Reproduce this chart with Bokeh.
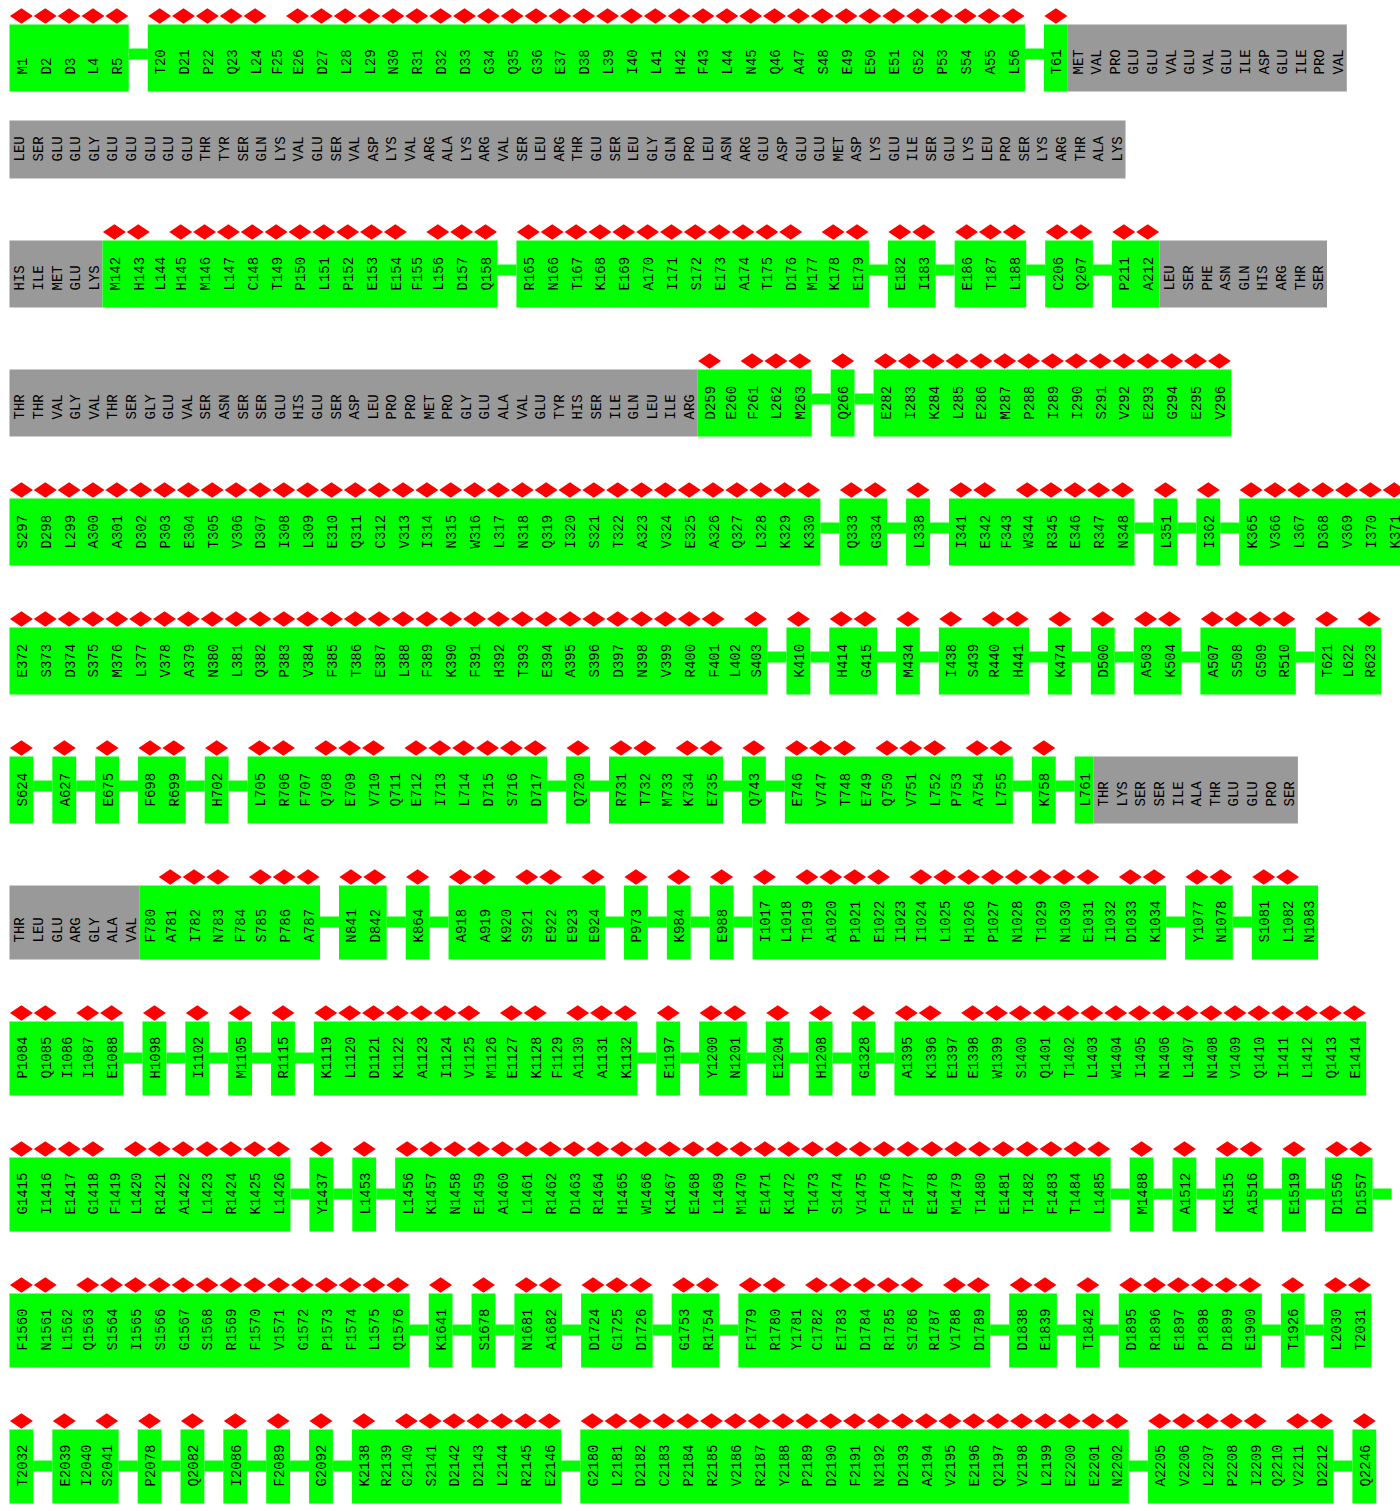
import math
from bokeh.plotting import figure
from bokeh.models import ColumnDataSource, Range1d
from bokeh.embed import file_html
from bokeh.resources import INLINE
from bokeh.core.properties import value

# ---------------- data: residues per display row ----------------
# Tokens with a number = observed residue (green); three-letter codes = unobserved (gray)
ROW_01 = ["M1", "D2", "D3", "L4", "R5",
          "T20", "D21", "P22", "Q23", "L24", "F25", "E26", "D27", "L28", "L29", "N30", "R31", "D32",
          "D33", "G34", "Q35", "G36", "E37", "D38", "L39", "I40", "L41", "H42", "F43", "L44", "N45",
          "Q46", "A47", "S48", "E49", "E50", "E51", "G52", "P53", "S54", "A55", "L56",
          "T61",
          "MET", "VAL", "PRO", "GLU", "GLU", "VAL", "GLU", "VAL", "GLU", "ILE", "ASP", "GLU", "ILE", "PRO", "VAL"]
ROW_02 = ["LEU", "SER", "GLU", "GLU", "GLY", "GLU", "GLU", "GLU", "GLU", "GLU", "THR", "TYR", "SER", "GLN",
          "LYS", "VAL", "GLU", "SER", "VAL", "ASP", "LYS", "VAL", "ARG", "ALA", "LYS", "ARG", "VAL", "SER",
          "LEU", "ARG", "THR", "GLU", "SER", "LEU", "GLY", "GLN", "PRO", "LEU", "ASN", "ARG", "GLU", "ASP",
          "GLU", "GLU", "MET", "ASP", "LYS", "GLU", "ILE", "SER", "GLU", "LYS", "LEU", "PRO", "SER", "LYS",
          "ARG", "THR", "ALA", "LYS"]
ROW_03 = ["HIS", "ILE", "MET", "GLU", "LYS",
          "M142", "H143", "L144", "H145", "M146", "L147", "C148", "T149", "P150", "L151", "P152", "E153",
          "E154", "F155", "L156", "D157", "Q158",
          "R165", "N166", "T167", "K168", "E169", "A170", "I171", "S172", "E173", "A174", "T175", "D176",
          "M177", "K178", "E179",
          "E182", "I183", "E186", "T187", "L188", "C206", "Q207", "P211", "A212",
          "LEU", "SER", "PHE", "ASN", "GLN", "HIS", "ARG", "THR", "SER"]
ROW_04 = ["THR", "THR", "VAL", "GLY", "VAL", "THR", "SER", "GLY", "GLU", "VAL", "SER", "ASN", "SER", "SER",
          "GLU", "HIS", "GLU", "SER", "ASP", "LEU", "PRO", "PRO", "MET", "PRO", "GLY", "GLU", "ALA", "VAL",
          "GLU", "TYR", "HIS", "SER", "ILE", "GLN", "LEU", "ILE", "ARG",
          "D259", "E260", "F261", "L262", "M263", "Q266",
          "E282", "I283", "K284", "L285", "E286", "M287", "P288", "I289", "I290", "S291", "V292", "E293",
          "G294", "E295", "V296"]
ROW_05 = ["S297", "D298", "L299", "A300", "A301", "D302", "P303", "E304", "T305", "V306", "D307", "I308",
          "L309", "E310", "Q311", "C312", "V313", "I314", "N315", "W316", "L317", "N318", "Q319", "I320",
          "S321", "T322", "A323", "V324", "E325", "A326", "Q327", "L328", "K329", "K330",
          "Q333", "G334", "L338", "I341", "E342", "F343", "W344", "R345", "E346", "R347", "N348",
          "L351", "I362", "K365", "V366", "L367", "D368", "V369", "I370", "K371"]
ROW_06 = ["E372", "S373", "D374", "S375", "M376", "L377", "V378", "A379", "N380", "L381", "Q382", "P383",
          "V384", "F385", "T386", "E387", "L388", "F389", "K390", "F391", "H392", "T393", "E394", "A395",
          "S396", "D397", "N398", "V399", "R400", "F401", "L402", "S403",
          "K410", "H414", "G415", "M434", "I438", "S439", "R440", "H441", "K474", "D500", "A503", "K504",
          "A507", "S508", "G509", "R510", "T621", "L622", "R623"]
ROW_07 = ["S624", "A627", "E675", "F698", "R699", "H702",
          "L705", "R706", "F707", "Q708", "E709", "V710", "Q711", "E712", "I713", "L714", "D715", "S716",
          "D717", "Q720", "R731", "T732", "M733", "K734", "E735", "Q743",
          "E746", "V747", "T748", "E749", "Q750", "V751", "L752", "P753", "A754", "L755", "K758", "L761",
          "THR", "LYS", "SER", "SER", "ILE", "ALA", "THR", "GLU", "GLU", "PRO", "SER"]
ROW_08 = ["THR", "LEU", "GLU", "ARG", "GLY", "ALA", "VAL",
          "F780", "A781", "I782", "N783", "F784", "S785", "P786", "A787", "N841", "D842", "K864",
          "A918", "A919", "K920", "S921", "E922", "E923", "E924", "P973", "K984", "E988",
          "I1017", "L1018", "T1019", "A1020", "P1021", "E1022", "I1023", "I1024", "L1025", "H1026",
          "P1027", "N1028", "T1029", "N1030", "E1031", "I1032", "D1033", "K1034",
          "Y1077", "N1078", "S1081", "L1082", "N1083"]
ROW_09 = ["P1084", "Q1085", "I1086", "I1087", "E1088", "H1098", "I1102", "M1105", "R1115",
          "K1119", "L1120", "D1121", "K1122", "A1123", "I1124", "V1125", "M1126", "E1127", "K1128",
          "F1129", "A1130", "A1131", "K1132", "E1197", "Y1200", "N1201", "E1204", "H1208", "G1328",
          "A1395", "K1396", "E1397", "E1398", "W1399", "S1400", "Q1401", "T1402", "L1403", "W1404",
          "I1405", "N1406", "L1407", "N1408", "V1409", "Q1410", "I1411", "L1412", "Q1413", "E1414"]
ROW_10 = ["G1415", "I1416", "E1417", "G1418", "F1419", "L1420", "R1421", "A1422", "L1423", "R1424",
          "K1425", "L1426", "Y1437", "L1453",
          "L1456", "K1457", "N1458", "E1459", "A1460", "L1461", "R1462", "D1463", "R1464", "H1465",
          "W1466", "K1467", "E1468", "L1469", "M1470", "E1471", "K1472", "T1473", "S1474", "V1475",
          "F1476", "F1477", "E1478", "M1479", "T1480", "E1481", "T1482", "F1483", "T1484", "L1485",
          "M1488", "A1512", "K1515", "A1516", "E1519", "D1556", "D1557"]
ROW_11 = ["F1560", "N1561", "L1562", "Q1563", "S1564", "I1565", "S1566", "G1567", "S1568", "R1569",
          "F1570", "V1571", "G1572", "P1573", "F1574", "L1575", "Q1576", "K1641", "S1678", "N1681",
          "A1682", "D1724", "G1725", "D1726", "G1753", "R1754",
          "F1779", "R1780", "Y1781", "C1782", "E1783", "D1784", "R1785", "S1786", "R1787", "V1788",
          "D1789", "D1838", "E1839", "T1842", "D1895", "R1896", "E1897", "P1898", "D1899", "E1900",
          "T1926", "L2030", "T2031"]
ROW_12 = ["T2032", "E2039", "I2040", "S2041", "P2078", "Q2082", "I2086", "F2089", "G2092",
          "K2138", "R2139", "G2140", "S2141", "D2142", "D2143", "L2144", "R2145", "E2146",
          "G2180", "L2181", "D2182", "C2183", "P2184", "R2185", "V2186", "R2187", "Y2188", "P2189",
          "D2190", "F2191", "N2192", "D2193", "A2194", "V2195", "E2196", "Q2197", "V2198", "L2199",
          "E2200", "E2201", "N2202",
          "A2205", "V2206", "L2207", "P2208", "I2209", "Q2210", "V2211", "D2212", "Q2246"]

# observed residues that carry no red diamond marker
UNFLAGGED = ["F25", "L144", "F155", "M177", "E260", "F343", "L402", "S439", "L622",
             "F707", "Q711", "M733", "E749", "P753", "L761",
             "F780", "F784", "K920", "E923", "L1018", "I1023", "I1032", "N1083",
             "I1086", "M1126", "F1129", "E1397", "F1419",
             "L1562", "Y1781", "R1787", "I2040", "R2139", "Q2210"]

ROWS = [ROW_01, ROW_02, ROW_03, ROW_04, ROW_05, ROW_06,
        ROW_07, ROW_08, ROW_09, ROW_10, ROW_11, ROW_12]

# ---------------- layout / style ----------------
W, H = 1400, 1511
X0 = 9.0
FLAG_W = 23.85     # slot width of a flagged residue
PLAIN_W = 18.6     # slot width of an unflagged / unobserved residue
GAP_W = 19.0       # connector length for a break in numbering
FIRST_TOP = 24.0
GREEN = "#00ff00"
GRAY = "#999999"
RED = "#ff0000"

unflagged = set(UNFLAGGED)


def is_obs(tok):
    return any(c.isdigit() for c in tok)


def resnum(tok):
    return int(tok[1:])


box = dict(left=[], right=[], top=[], bottom=[], color=[])
conn = dict(left=[], right=[], top=[], bottom=[])
dia = dict(x=[], y=[])
lab = dict(x=[], y=[], text=[])

bottom = None
for ri, row in enumerate(ROWS):
    has_obs = any(is_obs(t) for t in row)
    has_flag = any(is_obs(t) and t not in unflagged for t in row)
    top = FIRST_TOP if ri == 0 else bottom + (62 if has_flag else 29)
    maxlen = max(len(t) for t in row)
    h = 39 + 7 * max(4, maxlen) if has_obs else 37 + 7 * maxlen
    bottom = top + h
    cy = bottom - 37.5
    x = X0
    prev = None
    runs = []
    for tok in row:
        obs = is_obs(tok)
        if obs and prev is not None and is_obs(prev) and resnum(tok) != resnum(prev) + 1:
            conn["left"].append(x); conn["right"].append(x + GAP_W)
            conn["top"].append(cy - 5.5); conn["bottom"].append(cy + 5.5)
            x += GAP_W
        flagged = obs and tok not in unflagged
        w = FLAG_W if flagged else PLAIN_W
        col = GREEN if obs else GRAY
        if runs and runs[-1][2] == col and abs(runs[-1][1] - x) < 1e-6:
            runs[-1][1] = x + w
        else:
            runs.append([x, x + w, col])
        if flagged:
            dia["x"].append(x + w / 2); dia["y"].append(top - 8.5)
        lab["x"].append(x + w / 2 + 1.5); lab["y"].append(bottom - 17); lab["text"].append(tok)
        x += w
        prev = tok
    if ri + 1 < len(ROWS):
        nxt = ROWS[ri + 1][0]
        if is_obs(prev) and is_obs(nxt) and resnum(nxt) != resnum(prev) + 1:
            conn["left"].append(x); conn["right"].append(x + GAP_W)
            conn["top"].append(cy - 5.5); conn["bottom"].append(cy + 5.5)
    for l, r, c in runs:
        box["left"].append(l); box["right"].append(r)
        box["top"].append(top); box["bottom"].append(bottom); box["color"].append(c)

p = figure(width=W, height=H, x_range=Range1d(0, W), y_range=Range1d(H, 0),
           output_backend="svg", toolbar_location=None, min_border=0,
           background_fill_color="white", border_fill_color="white")
p.axis.visible = False
p.grid.visible = False
p.outline_line_color = None

p.quad(left="left", right="right", top="top", bottom="bottom", source=ColumnDataSource(conn),
       fill_color=GREEN, line_color=None)
p.quad(left="left", right="right", top="top", bottom="bottom", source=ColumnDataSource(box),
       fill_color="color", line_color=None)
p.scatter(x="x", y="y", source=ColumnDataSource(dia), marker="diamond", size=23,
          angle=math.pi / 2, fill_color=RED, line_color=None)
p.text(x="x", y="y", text="text", source=ColumnDataSource(lab), angle=math.pi / 2,
       text_align="left", text_baseline="middle", text_font=value("Liberation Mono"),
       text_font_size="14px", text_color="black")

open("out.html", "w").write(file_html(p, INLINE))
